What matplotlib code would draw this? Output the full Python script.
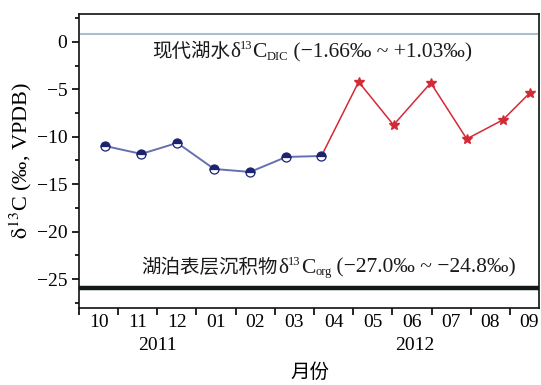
import numpy as np
import matplotlib.pyplot as plt
from matplotlib.ticker import MultipleLocator, FixedLocator, NullFormatter
import matplotlib.transforms as mtransforms

plt.rcParams['font.family'] = ['Liberation Serif', 'Noto Sans CJK SC']
plt.rcParams['mathtext.fontset'] = 'stix'
plt.rcParams['axes.unicode_minus'] = True

# sampling position in months since Oct 2011 (fractional = day within month)
t_2011 = [0.66, 1.59, 2.51, 3.45, 4.37, 5.29, 6.19]
d13c_2011 = [-10.97, -11.81, -10.65, -13.40, -13.71, -12.13, -12.03]
t_2012 = [7.14, 8.03, 8.98, 9.90, 10.82, 11.51]
d13c_2012 = [-4.22, -8.76, -4.32, -10.23, -8.23, -5.38]

month_labels = ['10', '11', '12', '01', '02', '03', '04', '05', '06', '07', '08', '09']
dic_level = 0.78
org_level = -25.95


def rich_text(ax, x, y, parts):
    """Chain text pieces on one baseline; each part is (text, fontsize, rise_pt)."""
    prev = None
    for s, size, rise in parts:
        xycoords = 'data' if prev is None else (prev, 'data')
        xy = (x, y) if prev is None else (1, y)
        prev = ax.annotate(s, xy=xy, xycoords=xycoords, xytext=(0, rise),
                           textcoords='offset points', va='baseline', ha='left',
                           fontsize=size, color='#1a1a1a')
    return prev


fig = plt.figure(figsize=(5.41, 3.85), dpi=100)
ax = fig.add_axes([0.146, 0.2, 0.85, 0.764])

ax.axhline(dic_level, xmin=0.005, xmax=0.995, color='#a9bfcf', lw=1.5, zorder=1)
ax.axhline(org_level, color='#111a16', lw=3.2, zorder=1)

# red segment starts from the last point of the first year
ax.plot([t_2011[-1]] + t_2012, [d13c_2011[-1]] + d13c_2012, color='#d42a36',
        lw=1.1, marker='*', markersize=7, markevery=list(range(1, len(t_2012) + 1)),
        markeredgecolor='#d42a36', zorder=3)
ax.plot(t_2011, d13c_2011, color='#6670b0', lw=1.4, zorder=3)
ax.plot(t_2011, d13c_2011, ls='none', marker='o', markersize=6.5, fillstyle='top',
        markerfacecolor='#1c2470', markerfacecoloralt='white',
        markeredgecolor='#1c2470', markeredgewidth=0.9, zorder=4)

rich_text(ax, 1.86, -1.6, [('现代湖水', 14, 0), ('δ', 15.5, 0), ('13', 9, 5.5), ('C', 15.5, 0),
                           ('DIC', 9, -1.8), (' (−1.66‰ ~ +1.03‰)', 15.5, 0)])
rich_text(ax, 1.6, -24.35, [('湖泊表层沉积物', 14, 0), ('δ', 15.5, 0), ('13', 9, 5.5), ('C', 15.5, 0),
                            ('org', 9, -1.8), (' (−27.0‰ ~ −24.8‰)', 15.5, 0)])

ax.set_xlim(0, 11.74)
ax.set_ylim(-28.05, 2.95)

ax.xaxis.set_major_locator(FixedLocator(np.arange(0, 12)))
ax.xaxis.set_major_formatter(NullFormatter())
ax.xaxis.set_minor_locator(FixedLocator(np.arange(12) + 0.5))
ax.set_xticklabels(month_labels, minor=True)
ax.tick_params(axis='x', which='major', direction='out', length=5, width=1.2, top=False)
ax.tick_params(axis='x', which='minor', length=0, pad=4, labelsize=14)

ax.yaxis.set_major_locator(MultipleLocator(5))
ax.yaxis.set_minor_locator(MultipleLocator(2.5))
ax.tick_params(axis='y', which='major', direction='out', length=5, width=1.2, labelsize=14, right=False)
ax.tick_params(axis='y', which='minor', direction='out', length=3, width=1.2, right=False)

for s in ax.spines.values():
    s.set_linewidth(1.2)
    s.set_color('#111111')

trans = mtransforms.blended_transform_factory(ax.transData, fig.transFigure)
ax.text(2.0, 1 - 345 / 385, '2011', transform=trans, ha='center', va='center', fontsize=14)
ax.text(8.57, 1 - 345 / 385, '2012', transform=trans, ha='center', va='center', fontsize=14)
fig.text(0.573, 1 - 373 / 385, '月份', ha='center', va='center', fontsize=14)
ax.set_ylabel(r'$\mathrm{δ}^{13}$C (‰, VPDB)', fontsize=16, labelpad=2)

fig.savefig('out.png', dpi=100, facecolor='white')
